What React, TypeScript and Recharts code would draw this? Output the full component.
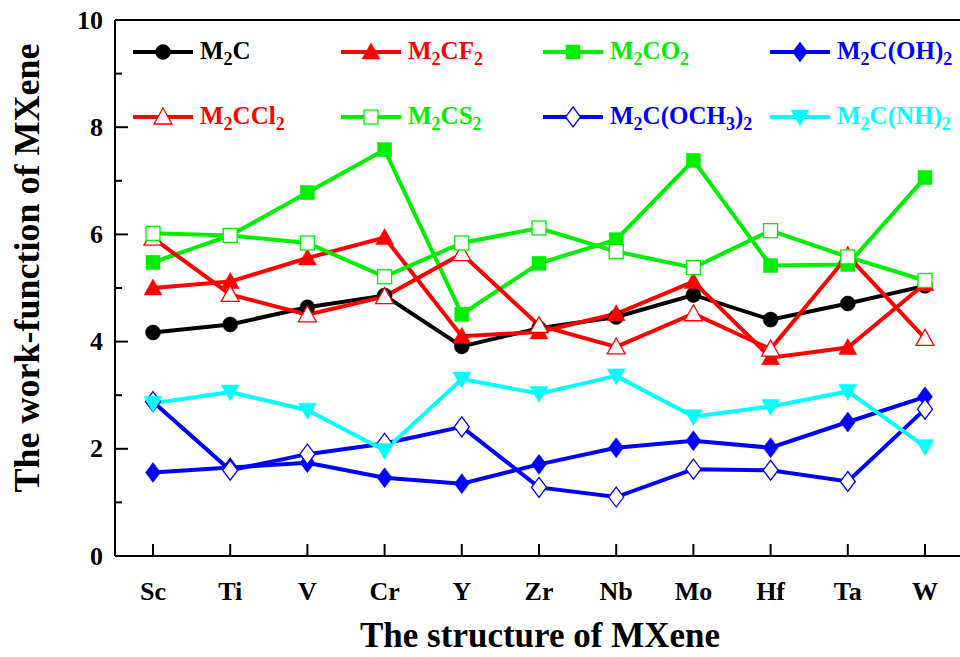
import { LineChart, Line, XAxis, YAxis, ReferenceLine } from 'recharts';

// MXene metals along the x axis
const categories = ['Sc', 'Ti', 'V', 'Cr', 'Y', 'Zr', 'Nb', 'Mo', 'Hf', 'Ta', 'W'];

// work function (eV) per termination
const m2c = [4.17, 4.32, 4.64, 4.86, 3.91, 4.25, 4.46, 4.87, 4.41, 4.71, 5.04];
const m2cf2 = [5.0, 5.12, 5.56, 5.94, 4.1, 4.18, 4.52, 5.12, 3.7, 3.89, 5.08];
const m2co2 = [5.48, 5.98, 6.78, 7.58, 4.51, 5.46, 5.9, 7.38, 5.42, 5.44, 7.06];
const m2coh2 = [1.56, 1.65, 1.74, 1.46, 1.35, 1.71, 2.02, 2.15, 2.02, 2.5, 2.97];
const m2ccl2 = [5.93, 4.88, 4.5, 4.84, 5.64, 4.3, 3.9, 4.52, 3.86, 5.6, 4.06];
const m2cs2 = [6.02, 5.98, 5.84, 5.21, 5.84, 6.12, 5.68, 5.38, 6.07, 5.58, 5.14];
const m2coch32 = [2.88, 1.6, 1.9, 2.1, 2.41, 1.28, 1.1, 1.62, 1.6, 1.39, 2.74];
const m2cnh2 = [2.85, 3.06, 2.72, 1.97, 3.3, 3.03, 3.36, 2.6, 2.79, 3.07, 2.04];

const yTicks = [0, 1, 2, 3, 4, 5, 6, 7, 8, 9, 10];
const yLabeled = [0, 2, 4, 6, 8, 10];

type Shape = 'circle' | 'up' | 'square' | 'diamond' | 'down';

const SERIES = [
  { key: 'm2c', name: 'M2C', values: m2c, color: '#000000', shape: 'circle' as Shape, filled: true },
  { key: 'm2cf2', name: 'M2CF2', values: m2cf2, color: '#ff0000', shape: 'up' as Shape, filled: true },
  { key: 'm2co2', name: 'M2CO2', values: m2co2, color: '#00ee00', shape: 'square' as Shape, filled: true },
  { key: 'm2coh2', name: 'M2C(OH)2', values: m2coh2, color: '#0000ff', shape: 'diamond' as Shape, filled: true },
  { key: 'm2ccl2', name: 'M2CCl2', values: m2ccl2, color: '#ff0000', shape: 'up' as Shape, filled: false },
  { key: 'm2cs2', name: 'M2CS2', values: m2cs2, color: '#00ee00', shape: 'square' as Shape, filled: false },
  { key: 'm2coch32', name: 'M2C(OCH3)2', values: m2coch32, color: '#0000ff', shape: 'diamond' as Shape, filled: false },
  { key: 'm2cnh2', name: 'M2C(NH)2', values: m2cnh2, color: '#00ffff', shape: 'down' as Shape, filled: true },
];

const data = categories.map((cat, i) => {
  const row: Record<string, string | number> = { cat };
  SERIES.forEach((s) => {
    row[s.key] = s.values[i];
  });
  return row;
});

const FONT = '"Liberation Serif", "Times New Roman", serif';
const PLOT_LEFT = 115;
const PLOT_BOTTOM = 556;

function Marker({ cx, cy, shape, color, filled }: { cx: number; cy: number; shape: Shape; color: string; filled: boolean }) {
  const fill = filled ? color : '#ffffff';
  const stroke = color;
  const sw = filled ? 0.5 : 1.3;
  switch (shape) {
    case 'circle':
      return <circle cx={cx} cy={cy} r={7.5} fill={fill} stroke={stroke} strokeWidth={sw} />;
    case 'square':
      return <rect x={cx - 7} y={cy - 7} width={14} height={14} fill={fill} stroke={stroke} strokeWidth={sw} />;
    case 'up':
      return <polygon points={`${cx},${cy - 9} ${cx + 9},${cy + 7} ${cx - 9},${cy + 7}`} fill={fill} stroke={stroke} strokeWidth={sw} />;
    case 'down':
      return <polygon points={`${cx},${cy + 9} ${cx + 9},${cy - 7} ${cx - 9},${cy - 7}`} fill={fill} stroke={stroke} strokeWidth={sw} />;
    case 'diamond':
      return <polygon points={`${cx},${cy - 10} ${cx + 7.5},${cy} ${cx},${cy + 10} ${cx - 7.5},${cy}`} fill={fill} stroke={stroke} strokeWidth={sw} />;
  }
  return null;
}

// digits in the formulas are subscripts
function Formula({ text }: { text: string }) {
  return (
    <>
      {text.split(/(\d)/).map((part, i) =>
        /^\d$/.test(part) ? (
          <span key={i} style={{ fontSize: '0.72em', position: 'relative', top: '0.32em' }}>
            {part}
          </span>
        ) : (
          <span key={i}>{part}</span>
        )
      )}
    </>
  );
}

const LEGEND_COLS = [133, 341, 543, 770];
const LEGEND_ROWS = [52, 117];

function ChartLegend() {
  return (
    <>
      {SERIES.map((s, i) => {
        const col = i % 4;
        const row = Math.floor(i / 4);
        return (
          <div
            key={s.key}
            style={{
              position: 'absolute',
              left: LEGEND_COLS[col],
              top: LEGEND_ROWS[row] - 16,
              height: 32,
              display: 'flex',
              alignItems: 'center',
              fontFamily: FONT,
              fontWeight: 'bold',
              fontSize: 25,
              color: s.color,
              whiteSpace: 'nowrap',
            }}
          >
            <svg width={60} height={32}>
              <line x1={0} y1={16} x2={60} y2={16} stroke={s.color} strokeWidth={4} />
              <Marker cx={30} cy={16} shape={s.shape} color={s.color} filled={s.filled} />
            </svg>
            <span style={{ marginLeft: 7, lineHeight: '32px' }}>
              <Formula text={s.name} />
            </span>
          </div>
        );
      })}
    </>
  );
}

function YTick(props: any) {
  const { y, payload } = props;
  const v = payload.value as number;
  const major = yLabeled.includes(v);
  return (
    <g>
      <line x1={PLOT_LEFT} y1={y} x2={PLOT_LEFT + (major ? 13 : 7)} y2={y} stroke="#000" strokeWidth={2} />
      {major && (
        <text x={PLOT_LEFT - 12} y={y} textAnchor="end" dominantBaseline="central" fontFamily={FONT} fontWeight="bold" fontSize={26} fill="#000">
          {v}
        </text>
      )}
    </g>
  );
}

function XTick(props: any) {
  const { x, payload } = props;
  return (
    <g>
      <line x1={x} y1={PLOT_BOTTOM} x2={x} y2={PLOT_BOTTOM - 12} stroke="#000" strokeWidth={2} />
      <text x={x} y={591} textAnchor="middle" dominantBaseline="central" fontFamily={FONT} fontWeight="bold" fontSize={26} fill="#000">
        {payload.value}
      </text>
    </g>
  );
}

export default function App() {
  return (
    <div style={{ position: 'absolute', left: 0, top: 0, width: 960, height: 657, background: '#fff' }}>
      <LineChart width={960} height={657} data={data} margin={{ top: 20, right: 0, bottom: 0, left: 0 }}>
        <XAxis
          dataKey="cat"
          height={101}
          padding={{ left: 38, right: 35 }}
          tick={<XTick />}
          tickLine={false}
          axisLine={{ stroke: '#000', strokeWidth: 2 }}
          interval={0}
          label={() => (
            <text x={540} y={635} textAnchor="middle" dominantBaseline="central" fontFamily={FONT} fontWeight="bold" fontSize={35} fill="#000">
              The structure of MXene
            </text>
          )}
        />
        <YAxis
          width={115}
          domain={[0, 10]}
          ticks={yTicks}
          interval={0}
          tick={<YTick />}
          tickLine={false}
          axisLine={{ stroke: '#000', strokeWidth: 2 }}
          label={() => (
            <text x={27} y={268} transform="rotate(-90, 27, 268)" textAnchor="middle" dominantBaseline="central" fontFamily={FONT} fontWeight="bold" fontSize={36} fill="#000">
              The work-function of MXene
            </text>
          )}
        />
        <ReferenceLine y={10} stroke="#000" strokeWidth={2} />
        {SERIES.map((s) => (
          <Line
            key={s.key}
            type="linear"
            dataKey={s.key}
            name={s.name}
            stroke={s.color}
            strokeWidth={4}
            isAnimationActive={false}
            activeDot={false}
            dot={(p: any) => (
              <Marker key={`${s.key}-${p.index}`} cx={p.cx} cy={p.cy} shape={s.shape} color={s.color} filled={s.filled} />
            )}
          />
        ))}
      </LineChart>
      <ChartLegend />
    </div>
  );
}
